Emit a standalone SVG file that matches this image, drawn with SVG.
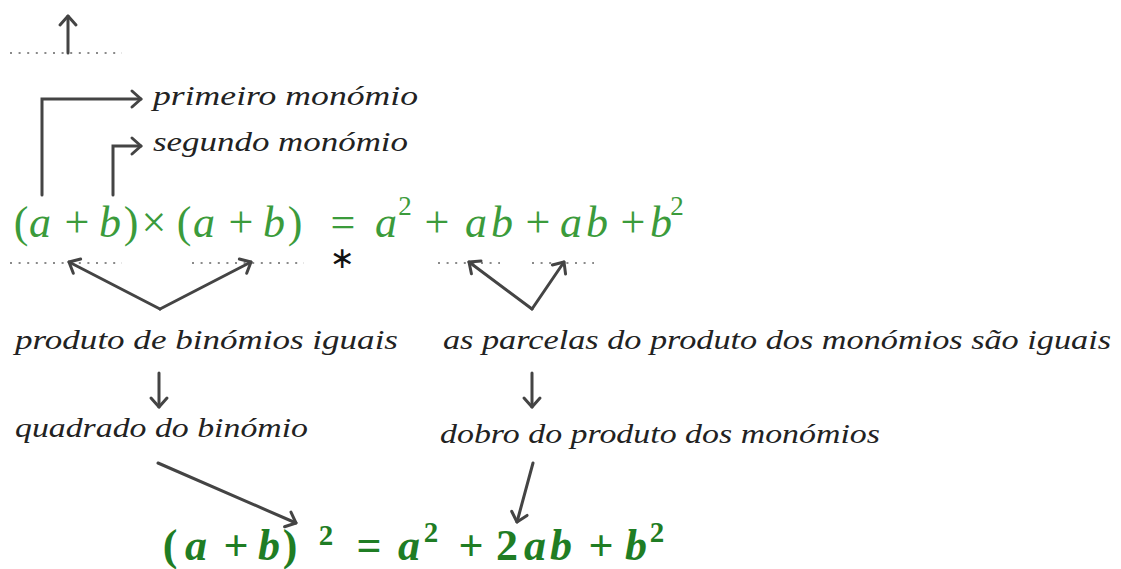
<svg xmlns="http://www.w3.org/2000/svg" width="1121" height="569" viewBox="0 0 1121 569" font-family="Liberation Serif, DejaVu Serif, Times New Roman, serif">
<defs>
<style>
.lbl{font-style:italic;font-size:27px;fill:#222}
.eq1{font-size:44px;fill:#3b9b3b}
.eq2{font-size:44px;font-weight:bold;fill:#1f7d24}
.it{font-style:italic}
.sup1{font-size:27px}
.sup2{font-size:29px}
.arr{fill:none;stroke:#444;stroke-width:3;stroke-linecap:round;stroke-linejoin:miter}
.dot{fill:none;stroke:#8a8a8a;stroke-width:2;stroke-dasharray:2 6.6}
</style>
<marker id="ah" markerUnits="userSpaceOnUse" markerWidth="14" markerHeight="20" viewBox="-12 -10 14 20" refX="0" refY="0" orient="auto" overflow="visible">
<path d="M-9,-8 L0,0 L-9,8" fill="none" stroke="#444" stroke-width="3" stroke-linecap="round" stroke-linejoin="round"/>
</marker>
</defs>
<rect width="1121" height="569" fill="#fff"/>

<g id="dotted">
<line class="dot" x1="10" y1="53" x2="122" y2="53"/>
<line class="dot" x1="10" y1="263" x2="122" y2="263"/>
<line class="dot" x1="192" y1="263" x2="304" y2="263"/>
<line class="dot" x1="438" y1="263" x2="500" y2="263"/>
<line class="dot" x1="532" y1="263" x2="594" y2="263"/>
</g>

<g id="connectors">
<path class="arr" d="M68,53 V16" marker-end="url(#ah)"/>
<path class="arr" d="M42,195 V99 H141" marker-end="url(#ah)"/>
<path class="arr" d="M113,195 V146 H141" marker-end="url(#ah)"/>
<path class="arr" d="M160,309 L69,262" marker-end="url(#ah)"/>
<path class="arr" d="M160,309 L251,262" marker-end="url(#ah)"/>
<path class="arr" d="M532,309 L469,262" marker-end="url(#ah)"/>
<path class="arr" d="M532,309 L564,262" marker-end="url(#ah)"/>
<path class="arr" d="M159,373 V407" marker-end="url(#ah)"/>
<path class="arr" d="M532,373 V407" marker-end="url(#ah)"/>
<path class="arr" d="M158,463 L296,523" marker-end="url(#ah)"/>
<path class="arr" d="M533,463 L517,522" marker-end="url(#ah)"/>
</g>

<g id="n-primeiro"><text class="lbl" x="153" y="105" textLength="265" lengthAdjust="spacingAndGlyphs">primeiro monómio</text></g>
<g id="n-segundo"><text class="lbl" x="153" y="151" textLength="255" lengthAdjust="spacingAndGlyphs">segundo monómio</text></g>

<g id="n-eq1">
<text class="eq1" y="237" text-anchor="middle"><tspan x="21">(</tspan><tspan class="it" x="40">a</tspan><tspan x="77">+</tspan><tspan class="it" x="110">b</tspan><tspan x="131">)</tspan><tspan x="154">×</tspan><tspan x="184">(</tspan><tspan class="it" x="204">a</tspan><tspan x="241">+</tspan><tspan class="it" x="274">b</tspan><tspan x="295">)</tspan><tspan x="343">=</tspan><tspan class="it" x="386">a</tspan><tspan class="sup1" x="405" y="215">2</tspan><tspan x="437" y="237">+</tspan><tspan class="it" x="476">a</tspan><tspan class="it" x="502">b</tspan><tspan x="538">+</tspan><tspan class="it" x="571">a</tspan><tspan class="it" x="597">b</tspan><tspan x="633">+</tspan><tspan class="it" x="661">b</tspan><tspan class="sup1" x="677" y="215">2</tspan></text>
</g>

<g id="n-star"><text x="342" y="268" text-anchor="middle" font-family="DejaVu Sans, sans-serif" font-size="30" fill="#111">∗</text></g>

<g id="n-produto"><text class="lbl" x="15" y="349" textLength="383" lengthAdjust="spacingAndGlyphs">produto de binómios iguais</text></g>
<g id="n-parcelas"><text class="lbl" x="443" y="349" textLength="668" lengthAdjust="spacingAndGlyphs">as parcelas do produto dos monómios são iguais</text></g>
<g id="n-quadrado"><text class="lbl" x="15" y="437" textLength="293" lengthAdjust="spacingAndGlyphs">quadrado do binómio</text></g>
<g id="n-dobro"><text class="lbl" x="440" y="443" textLength="440" lengthAdjust="spacingAndGlyphs">dobro do produto dos monómios</text></g>

<g id="n-eq2">
<text class="eq2" y="560" text-anchor="middle"><tspan x="170">(</tspan><tspan class="it" x="196">a</tspan><tspan x="236">+</tspan><tspan class="it" x="269">b</tspan><tspan x="290">)</tspan><tspan class="sup2" x="326" y="545">2</tspan><tspan x="369" y="560">=</tspan><tspan class="it" x="409">a</tspan><tspan class="sup2" x="431" y="542">2</tspan><tspan x="471" y="560">+</tspan><tspan x="507">2</tspan><tspan class="it" x="535">a</tspan><tspan class="it" x="561">b</tspan><tspan x="601">+</tspan><tspan class="it" x="636">b</tspan><tspan class="sup2" x="657" y="542">2</tspan></text>
</g>
</svg>
